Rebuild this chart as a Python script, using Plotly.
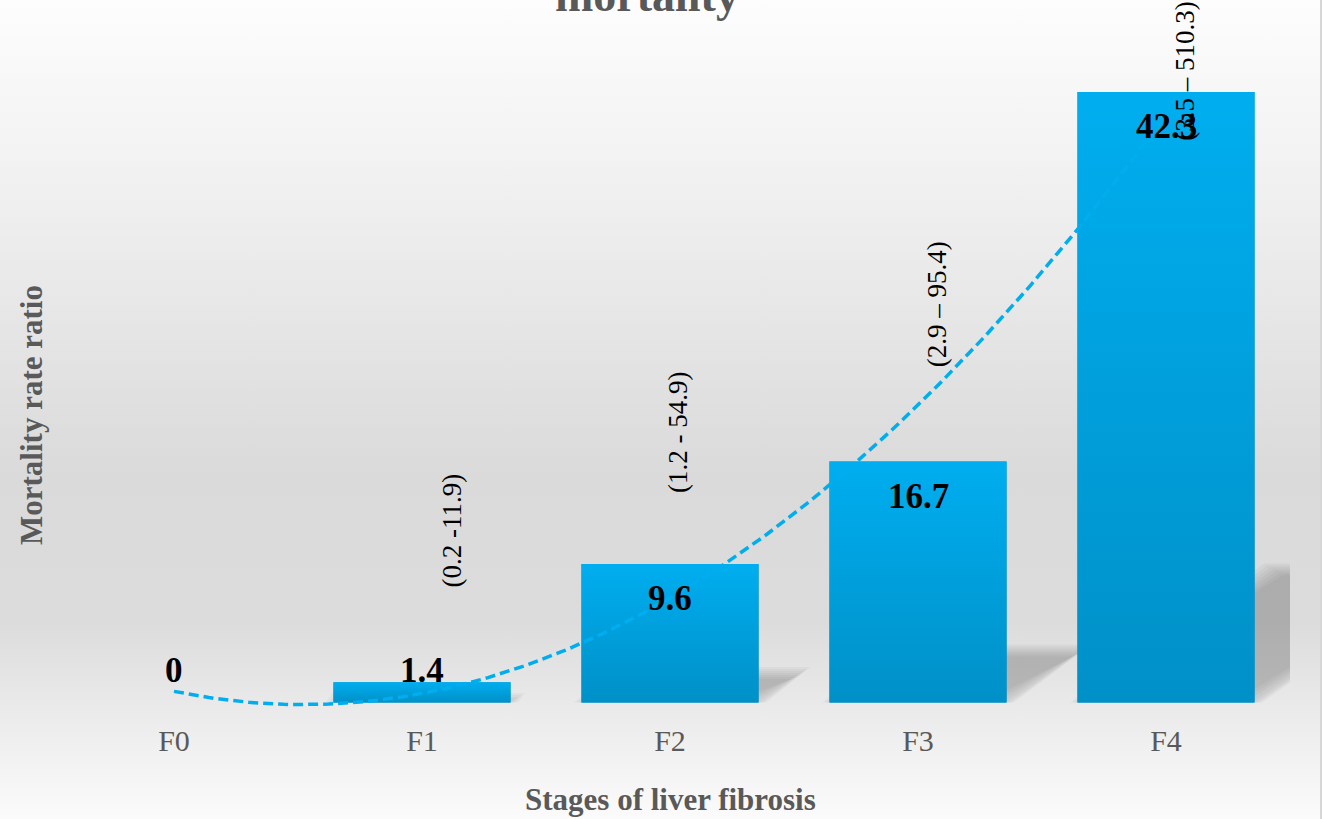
import base64
import numpy as np
import plotly.graph_objects as go

# ---- data -------------------------------------------------------------
stages = ["F0", "F1", "F2", "F3", "F4"]
rate_ratios = [0, 1.4, 9.6, 16.7, 42.3]
ci_texts = ["", "(0.2 -11.9)", "(1.2 - 54.9)", "(2.9 \u2013 95.4)", "(3.5 \u2013 510.3)"]

# ---- geometry / style -------------------------------------------------
W, H = 1324, 819
Y_MIN, Y_MAX = -1.0, 45.9
ML, MR, MT, MB = 50, 34, 40, 102
PLOT_W = W - ML - MR
PLOT_H = H - MT - MB
PX_X = PLOT_W / len(stages)          # pixels per category step
PX_Y = PLOT_H / (Y_MAX - Y_MIN)      # pixels per unit of rate ratio
BAR_W = 0.714

BAR_TOP = "#00AEEF"
BAR_BOTTOM = "#0090C8"
GREY_TEXT = "#595959"
SERIF = "Liberation Serif, Times New Roman, serif"

# where the confidence-interval captions sit (x offset, centre height)
ci_pos = [None, (0.12, 11.9), (0.03, 18.7), (0.077, 27.6), (0.077, 43.7)]

xs = list(range(len(stages)))

fig = go.Figure()

# base bars
fig.add_trace(go.Bar(
    x=xs, y=rate_ratios, width=BAR_W,
    marker=dict(color=BAR_BOTTOM, line=dict(width=0)),
    hoverinfo="skip", showlegend=False,
))

# vertical colour gradient laid over each bar
for i, v in zip(xs, rate_ratios):
    if v <= 0:
        continue
    x0, x1 = i - BAR_W / 2, i + BAR_W / 2
    fig.add_trace(go.Scatter(
        x=[x0, x1, x1, x0, x0], y=[0, 0, v, v, 0],
        mode="lines", fill="toself", line=dict(width=0),
        fillgradient=dict(type="vertical", start=0, stop=v,
                          colorscale=[[0, BAR_BOTTOM], [1, BAR_TOP]]),
        hoverinfo="skip", showlegend=False,
    ))

# quadratic trendline through the bar values
coef = np.polyfit(xs, rate_ratios, 2)
tx = np.linspace(0, len(stages) - 1, 200)
fig.add_trace(go.Scatter(
    x=tx, y=np.polyval(coef, tx), mode="lines",
    line=dict(color=BAR_TOP, width=3.5, dash="10px,5px"),
    hoverinfo="skip", showlegend=False,
))

# ---- perspective shadows behind the bars (soft, layered) -------------
SH_FRAC = 0.22   # shadow height relative to bar height
SH_SKEW = 1.45   # horizontal shift per unit of shadow height (px/px)
shapes = []
for i, v in zip(xs, rate_ratios):
    if v <= 0:
        continue
    h = SH_FRAC * v
    dx = SH_SKEW * h * PX_Y / PX_X
    x0, x1 = i - BAR_W / 2, i + BAR_W / 2
    for e_px in (-5, -3, -1, 1, 3, 5, 7):
        ex = 1.5 * e_px / PX_X
        ey = e_px / PX_Y
        if h - ey <= max(ey, 0):
            continue
        yb = max(ey, 0)
        pts = [(x0 + ex, yb), (x1 - ex, yb), (x1 + dx - ex, h - ey), (x0 + dx + ex, h - ey)]
        path = "M " + " L ".join(f"{px},{py}" for px, py in pts) + " Z"
        shapes.append(dict(type="path", path=path, xref="x", yref="y",
                           fillcolor="rgba(70,70,70,0.05)", line=dict(width=0),
                           layer="below"))

# right-hand frame line of the chart area
shapes.append(dict(type="line", xref="paper", yref="paper",
                   x0=(1321 - ML) / PLOT_W, x1=(1321 - ML) / PLOT_W,
                   y0=-MB / PLOT_H, y1=1 + MT / PLOT_H,
                   line=dict(color="#d6d6d6", width=2)))

# ---- background gradient ---------------------------------------------
svg = (
    '<svg xmlns="http://www.w3.org/2000/svg" width="10" height="100" preserveAspectRatio="none">'
    '<defs><linearGradient id="g" x1="0" y1="0" x2="0" y2="1">'
    '<stop offset="0" stop-color="#fdfdfd"/>'
    '<stop offset="0.25" stop-color="#efefef"/>'
    '<stop offset="0.58" stop-color="#dadada"/>'
    '<stop offset="0.76" stop-color="#dcdcdc"/>'
    '<stop offset="0.88" stop-color="#ececec"/>'
    '<stop offset="1" stop-color="#fbfbfb"/>'
    '</linearGradient></defs>'
    '<rect width="10" height="100" fill="url(#g)"/></svg>'
)
bg_src = "data:image/svg+xml;base64," + base64.b64encode(svg.encode()).decode()

# ---- text ------------------------------------------------------------
annotations = []

def paper_x(px):
    return (px - ML) / PLOT_W

def paper_y(py):
    return 1 - (py - MT) / PLOT_H

annotations.append(dict(text="<b>mortality</b>", xref="paper", yref="paper",
                        x=paper_x(647), y=paper_y(-4), showarrow=False,
                        xanchor="center", yanchor="middle",
                        font=dict(family=SERIF, size=46, color=GREY_TEXT)))
annotations.append(dict(text="<b>Stages of liver fibrosis</b>", xref="paper", yref="paper",
                        x=paper_x(670), y=paper_y(799), showarrow=False,
                        xanchor="center", yanchor="middle",
                        font=dict(family=SERIF, size=31, color=GREY_TEXT)))
annotations.append(dict(text="<b>Mortality rate ratio</b>", xref="paper", yref="paper",
                        x=paper_x(31), y=paper_y(415), showarrow=False, textangle=-90,
                        xanchor="center", yanchor="middle",
                        font=dict(family=SERIF, size=31, color=GREY_TEXT)))

for i, v in zip(xs, rate_ratios):
    if v * PX_Y > 67:
        y, shift = v, -35
    else:
        y, shift = 0, 32
    annotations.append(dict(text=f"<b>{v:g}</b>", x=i, y=y, yshift=shift,
                            xref="x", yref="y", showarrow=False,
                            xanchor="center", yanchor="middle",
                            font=dict(family=SERIF, size=35, color="black")))

for i, (txt, pos) in enumerate(zip(ci_texts, ci_pos)):
    if not txt:
        continue
    dxo, yc = pos
    annotations.append(dict(text=txt, x=i + dxo, y=yc, xref="x", yref="y",
                            showarrow=False, textangle=-90,
                            xanchor="center", yanchor="middle",
                            font=dict(family=SERIF, size=27, color="black")))

fig.update_layout(
    width=W, height=H,
    margin=dict(l=ML, r=MR, t=MT, b=MB, pad=0),
    paper_bgcolor="white",
    plot_bgcolor="rgba(0,0,0,0)",
    showlegend=False,
    bargap=1 - BAR_W,
    xaxis=dict(range=[-0.5, len(stages) - 0.5], tickmode="array",
               tickvals=xs, ticktext=stages, showgrid=False, zeroline=False,
               showline=False, ticks="", ticklabelstandoff=3,
               tickfont=dict(family=SERIF, size=30, color=GREY_TEXT),
               fixedrange=True),
    yaxis=dict(range=[Y_MIN, Y_MAX], visible=False, showgrid=False,
               zeroline=False, fixedrange=True),
    shapes=shapes,
    annotations=annotations,
    images=[dict(source=bg_src, xref="paper", yref="paper",
                 x=-ML / PLOT_W, y=1 + MT / PLOT_H,
                 sizex=1320 / PLOT_W, sizey=H / PLOT_H,
                 xanchor="left", yanchor="top", sizing="stretch",
                 layer="below")],
)

fig.write_html("out.html")
